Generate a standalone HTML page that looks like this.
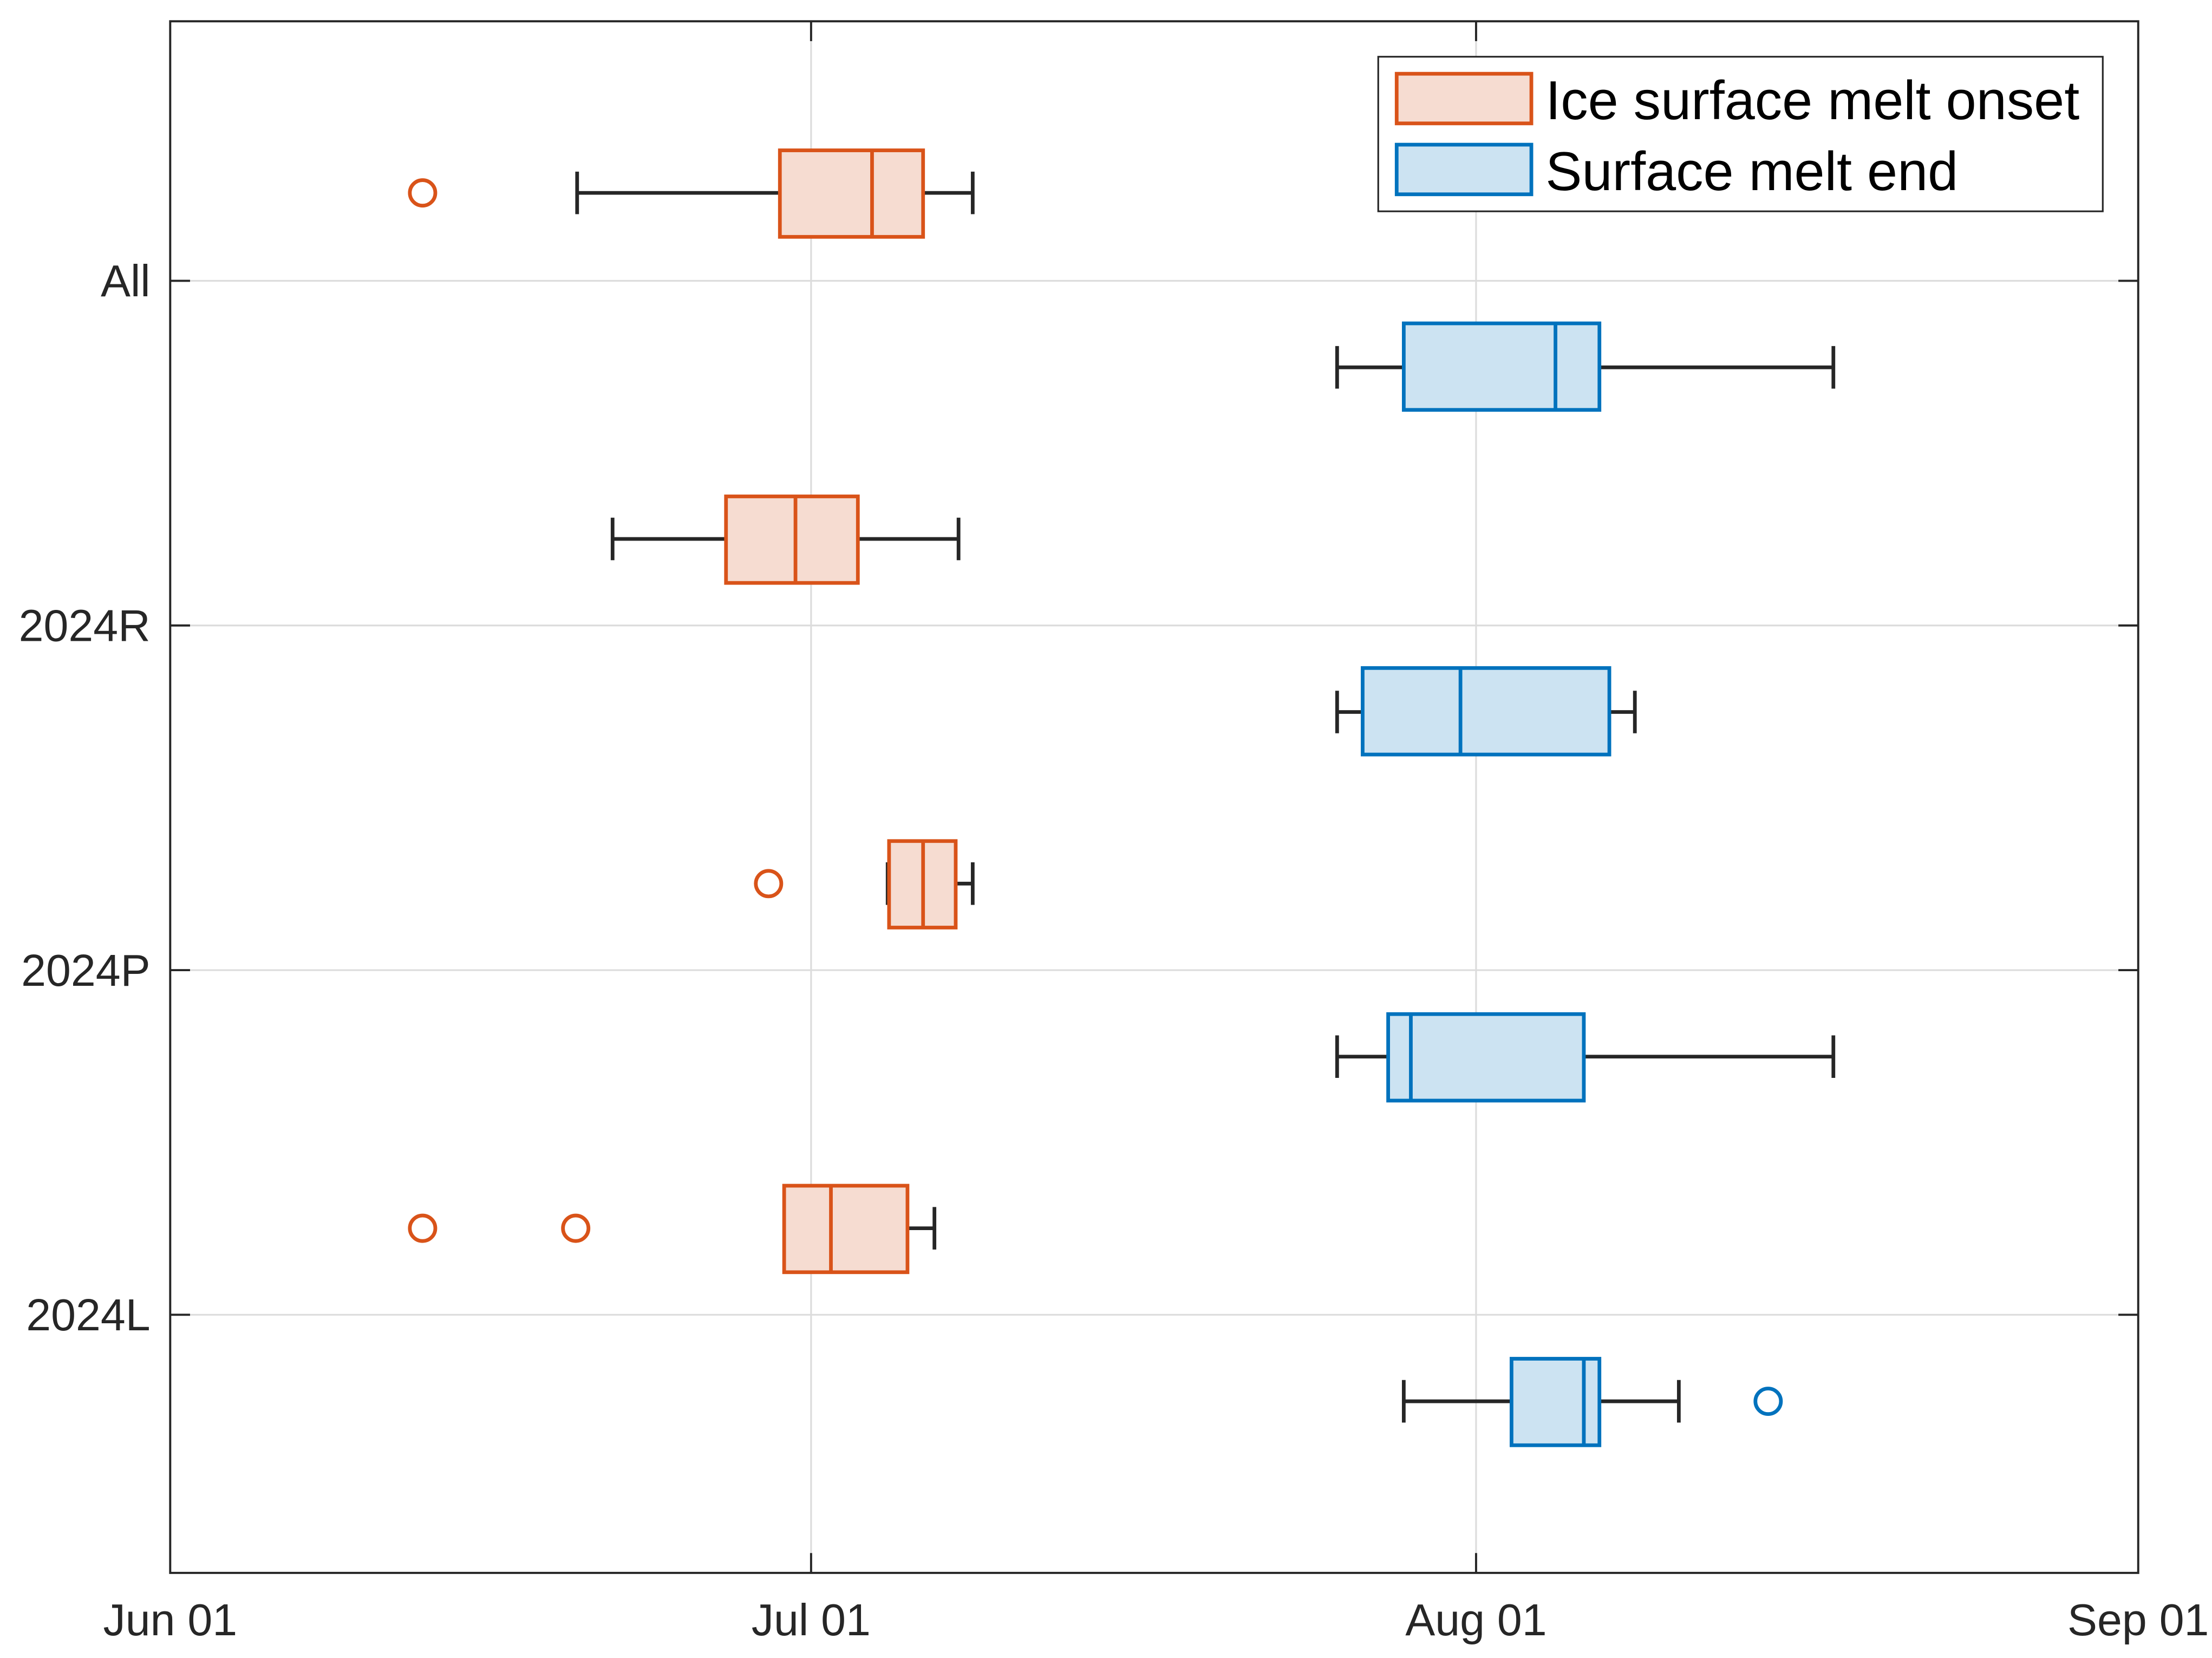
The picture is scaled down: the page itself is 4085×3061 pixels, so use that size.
<!DOCTYPE html>
<html><head><style>html,body{margin:0;padding:0;background:#fff}svg{display:block}</style></head><body>
<svg width="4085" height="3061" viewBox="0 0 1560 1169" xmlns="http://www.w3.org/2000/svg" font-family="Liberation Sans, sans-serif">
<rect width="1560" height="1169" fill="#fff"/>
<g stroke="#dcdcdc" stroke-width="1.2">
<line x1="572" y1="15" x2="572" y2="1109"/><line x1="1041" y1="15" x2="1041" y2="1109"/>
<line x1="120" y1="198" x2="1508" y2="198"/><line x1="120" y1="441" x2="1508" y2="441"/>
<line x1="120" y1="684" x2="1508" y2="684"/><line x1="120" y1="927" x2="1508" y2="927"/>
</g>
<g stroke="#262626" stroke-width="1.5">
<line x1="572" y1="15" x2="572" y2="29"/><line x1="1041" y1="15" x2="1041" y2="29"/>
<line x1="572" y1="1109" x2="572" y2="1095"/><line x1="1041" y1="1109" x2="1041" y2="1095"/>
<line x1="120" y1="198" x2="134" y2="198"/><line x1="120" y1="441" x2="134" y2="441"/><line x1="120" y1="684" x2="134" y2="684"/><line x1="120" y1="927" x2="134" y2="927"/>
<line x1="1508" y1="198" x2="1494" y2="198"/><line x1="1508" y1="441" x2="1494" y2="441"/><line x1="1508" y1="684" x2="1494" y2="684"/><line x1="1508" y1="927" x2="1494" y2="927"/>
</g>
<g stroke="#262626" stroke-width="2.6" fill="none">
<path d="M407 136H550M651 136H686M407 121V151M686 121V151"/>
<path d="M943 259H990M1128 259H1293M943 244V274M1293 244V274"/>
<path d="M432 380H512M605 380H676M432 365V395M676 365V395"/>
<path d="M943 502H961M1135 502H1153M943 487V517M1153 487V517"/>
<path d="M626 623H627M674 623H686M626 608V638M686 608V638"/>
<path d="M943 745H979M1117 745H1293M943 730V760M1293 730V760"/>
<path d="M640 866H659M659 851V881"/>
<path d="M990 988H1066M1128 988H1184M990 973V1003M1184 973V1003"/>
</g>
<g stroke="#D95319" stroke-width="2.6" fill="#F6DCD1">
<rect x="550" y="106" width="101" height="61"/><line x1="615" y1="106" x2="615" y2="167"/>
<rect x="512" y="350" width="93" height="61"/><line x1="561" y1="350" x2="561" y2="411"/>
<rect x="627" y="593" width="47" height="61"/><line x1="651" y1="593" x2="651" y2="654"/>
<rect x="553" y="836" width="87" height="61"/><line x1="586" y1="836" x2="586" y2="897"/>
<g fill="none"><circle cx="298" cy="136" r="9"/><circle cx="542" cy="623" r="9"/><circle cx="298" cy="866" r="9"/><circle cx="406" cy="866" r="9"/></g>
</g>
<g stroke="#0072BD" stroke-width="2.6" fill="#CCE3F2">
<rect x="990" y="228" width="138" height="61"/><line x1="1097" y1="228" x2="1097" y2="289"/>
<rect x="961" y="471" width="174" height="61"/><line x1="1030" y1="471" x2="1030" y2="532"/>
<rect x="979" y="715" width="138" height="61"/><line x1="995" y1="715" x2="995" y2="776"/>
<rect x="1066" y="958" width="62" height="61"/><line x1="1117" y1="958" x2="1117" y2="1019"/>
<circle cx="1247" cy="988" r="9" fill="none"/>
</g>
<rect x="120" y="15" width="1388" height="1094" fill="none" stroke="#262626" stroke-width="1.5"/>
<rect x="972" y="40" width="511" height="109" fill="#fff" stroke="#262626" stroke-width="1.2"/>
<rect x="985" y="52" width="95" height="35" fill="#F6DCD1" stroke="#D95319" stroke-width="2.6"/>
<rect x="985" y="102" width="95" height="35" fill="#CCE3F2" stroke="#0072BD" stroke-width="2.6"/>
<g fill="#000" font-size="38.5"><text x="1090" y="84">Ice surface melt onset</text><text x="1090" y="134">Surface melt end</text></g>
<g fill="#262626" font-size="31.5" text-anchor="end">
<text x="106" y="209">All</text><text x="106" y="452">2024R</text><text x="106" y="695">2024P</text><text x="106" y="938">2024L</text>
</g>
<g fill="#262626" font-size="31.5" text-anchor="middle">
<text x="120" y="1153">Jun 01</text><text x="572" y="1153">Jul 01</text><text x="1041" y="1153">Aug 01</text><text x="1508" y="1153">Sep 01</text>
</g>
</svg>
</body></html>
